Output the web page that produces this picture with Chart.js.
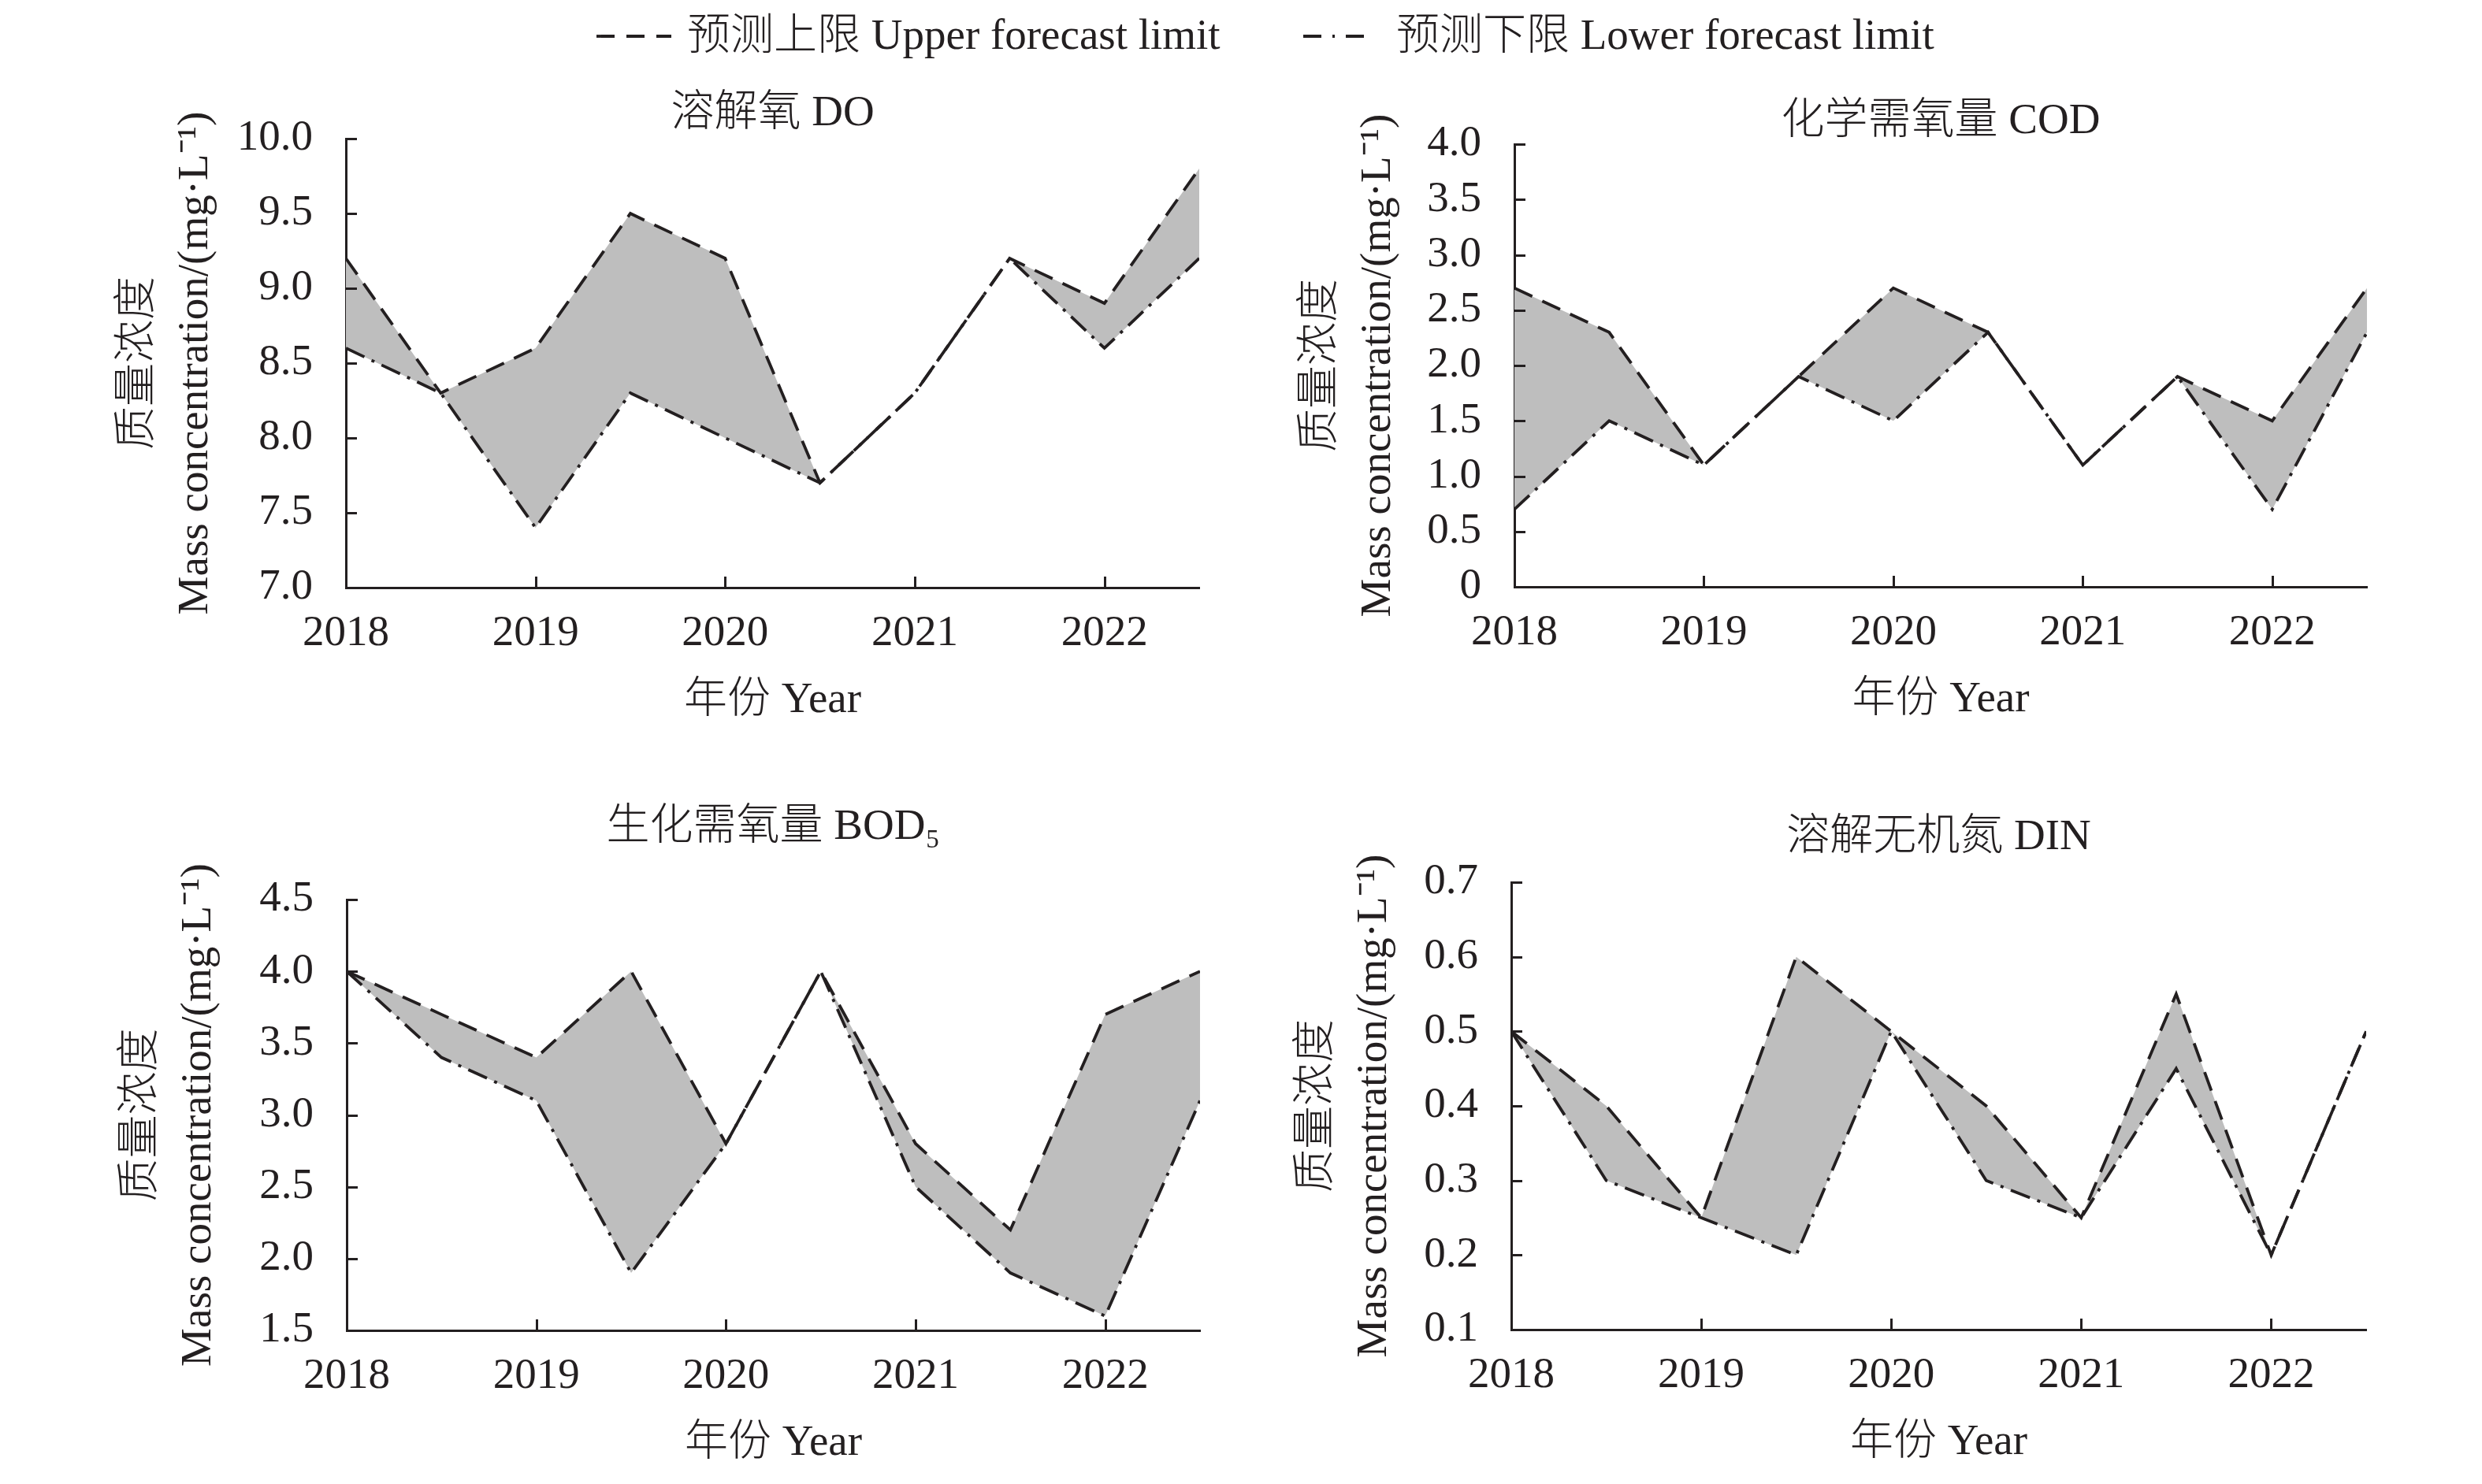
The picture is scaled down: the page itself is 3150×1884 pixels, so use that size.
<!DOCTYPE html>
<html>
<head>
<meta charset="utf-8">
<script src="https://cdn.jsdelivr.net/npm/chart.js@4.4.1/dist/chart.umd.min.js"></script>
<style>
  html, body { margin: 0; padding: 0; background: #ffffff; }
  body { width: 3150px; height: 1884px; position: relative; overflow: hidden; }
  canvas { position: absolute; }
  .leg { position: absolute; font-family: 'Liberation Serif', 'Noto Sans CJK SC', serif; font-weight: 300; font-size: 55px; line-height: 55px; color: #231f20; white-space: nowrap; }
  .legsvg { position: absolute; }
</style>
</head>
<body>
<svg class="legsvg" style="left:757px;top:40px" width="95" height="12"><line x1="0" y1="6" x2="95" y2="6" stroke="#231f20" stroke-width="3.8" stroke-dasharray="23 15"/></svg>
<div class="leg" style="left:872px;top:16px">预测上限 Upper forecast limit</div>
<svg class="legsvg" style="left:1654px;top:40px" width="86" height="12"><line x1="0" y1="6" x2="86" y2="6" stroke="#231f20" stroke-width="3.8" stroke-dasharray="23 14 3 14"/></svg>
<div class="leg" style="left:1772px;top:16px">预测下限 Lower forecast limit</div>

<canvas id="c1" width="1575" height="942" style="left:0px;top:0px"></canvas>
<canvas id="c2" width="1575" height="942" style="left:1575px;top:0px"></canvas>
<canvas id="c3" width="1575" height="942" style="left:0px;top:942px"></canvas>
<canvas id="c4" width="1575" height="942" style="left:1575px;top:942px"></canvas>

<script>
// ---------- data ----------
const years = [2018, 2018.5, 2019, 2019.5, 2020, 2020.5, 2021, 2021.5, 2022, 2022.5];
const xTickLabels = ['2018', '2019', '2020', '2021', '2022'];

const doUpper = [9.2, 8.3, 8.6, 9.5, 9.2, 7.7, 8.3, 9.2, 8.9, 9.8];
const doLower = [8.6, 8.3, 7.4, 8.3, 8.0, 7.7, 8.3, 9.2, 8.6, 9.2];
const doTicks = ['7.0', '7.5', '8.0', '8.5', '9.0', '9.5', '10.0'];

const codUpper = [2.7, 2.3, 1.1, 1.9, 2.7, 2.3, 1.1, 1.9, 1.5, 2.7];
const codLower = [0.7, 1.5, 1.1, 1.9, 1.5, 2.3, 1.1, 1.9, 0.7, 2.3];
const codTicks = ['0', '0.5', '1.0', '1.5', '2.0', '2.5', '3.0', '3.5', '4.0'];

const bodUpper = [4.0, 3.7, 3.4, 4.0, 2.8, 4.0, 2.8, 2.2, 3.7, 4.0];
const bodLower = [4.0, 3.4, 3.1, 1.9, 2.8, 4.0, 2.5, 1.9, 1.6, 3.1];
const bodTicks = ['1.5', '2.0', '2.5', '3.0', '3.5', '4.0', '4.5'];

const dinUpper = [0.5, 0.4, 0.25, 0.6, 0.5, 0.4, 0.25, 0.55, 0.2, 0.5];
const dinLower = [0.5, 0.3, 0.25, 0.2, 0.5, 0.3, 0.25, 0.45, 0.2, 0.5];
const dinTicks = ['0.1', '0.2', '0.3', '0.4', '0.5', '0.6', '0.7'];

const titles = ['溶解氧 DO', '化学需氧量 COD', '生化需氧量 BOD₅', '溶解无机氮 DIN'];
const yTitle = ['质量浓度', 'Mass concentration/(mg·L⁻¹)'];
const xTitle = '年份 Year';
const upperName = '预测上限 Upper forecast limit';
const lowerName = '预测下限 Lower forecast limit';

// ---------- style ----------
const INK = '#231f20';
const FILL = 'rgb(190,190,190)';
const FAMILY = "'Liberation Serif', 'Noto Sans CJK SC', serif";
const FS = 55;
const W = 300;

const innerTicks = {
  id: 'innerTicks',
  afterDraw(chart) {
    const { ctx, chartArea: a, scales: { x, y } } = chart;
    ctx.save();
    ctx.strokeStyle = INK;
    ctx.lineWidth = 3;
    ctx.beginPath();
    x.ticks.forEach(t => {
      const px = Math.round(x.getPixelForValue(t.value)) + 0.5;
      ctx.moveTo(px, a.bottom);
      ctx.lineTo(px, a.bottom - 14);
    });
    y.ticks.forEach(t => {
      const py = Math.round(y.getPixelForValue(t.value)) + 0.5;
      ctx.moveTo(a.left, py);
      ctx.lineTo(a.left + 14, py);
    });
    ctx.stroke();
    ctx.restore();
  }
};

function makeChart(id, upper, lower, yTicks, title, lay) {
  const yVals = yTicks.map(parseFloat);
  const xVals = xTickLabels.map(parseFloat);
  return new Chart(document.getElementById(id), {
    type: 'line',
    data: {
      datasets: [
        {
          label: upperName,
          data: years.map((x, i) => ({ x, y: upper[i] })),
          borderColor: INK, borderWidth: 3.8, borderDash: [25, 14],
          pointRadius: 0, tension: 0, fill: false
        },
        {
          label: lowerName,
          data: years.map((x, i) => ({ x, y: lower[i] })),
          borderColor: INK, borderWidth: 3.8, borderDash: [26, 10, 4, 10],
          pointRadius: 0, tension: 0, fill: '-1', backgroundColor: FILL
        }
      ]
    },
    options: {
      responsive: false,
      animation: false,
      devicePixelRatio: 1,
      layout: { padding: { left: lay.pl, right: lay.pr, top: 0, bottom: lay.pb } },
      plugins: {
        legend: { display: false },
        tooltip: { enabled: false },
        title: {
          display: true, text: title, color: INK, fullSize: false,
          font: { family: FAMILY, size: FS, weight: W, lineHeight: 1 },
          padding: { top: lay.ta, bottom: lay.tb }
        }
      },
      scales: {
        x: {
          type: 'linear',
          min: years[0], max: years[years.length - 1],
          afterBuildTicks: s => { s.ticks = xVals.map(v => ({ value: v })); },
          afterFit: s => { s.height = 190; },
          grid: { display: false, drawTicks: false },
          border: { display: true, color: INK, width: 3 },
          ticks: {
            color: INK, padding: 26, maxRotation: 0, autoSkip: false,
            font: { family: FAMILY, size: FS, weight: W, lineHeight: 1.2 },
            callback: (v, i) => xTickLabels[i]
          },
          title: {
            display: true, text: xTitle, color: INK,
            font: { family: FAMILY, size: FS, weight: W, lineHeight: 1.2 },
            padding: { top: 0, bottom: 13 }
          }
        },
        y: {
          type: 'linear',
          min: yVals[0], max: yVals[yVals.length - 1],
          afterBuildTicks: s => { s.ticks = yVals.map(v => ({ value: v })); },
          afterFit: s => { s.width = lay.yw; },
          grid: { display: false, drawTicks: false },
          border: { display: true, color: INK, width: 3 },
          ticks: {
            color: INK, padding: 42, autoSkip: false,
            font: { family: FAMILY, size: FS, weight: W, lineHeight: 1.2 },
            callback: (v, i) => yTicks[i]
          },
          title: {
            display: true, text: yTitle, color: INK,
            font: { family: FAMILY, size: FS, weight: W, lineHeight: 1.31 },
            padding: { top: 10, bottom: 0 }
          }
        }
      }
    },
    plugins: [innerTicks]
  });
}

makeChart('c1', doUpper, doLower, doTicks, titles[0], { pl: 130, yw: 309, pr: 53, pb: 6, ta: 117.5, tb: 3.5 });
makeChart('c2', codUpper, codLower, codTicks, titles[1], { pl: 56, yw: 291, pr: 146, pb: 7, ta: 127.5, tb: 0.5 });
makeChart('c3', bodUpper, bodLower, bodTicks, titles[2], { pl: 134, yw: 306, pr: 52, pb: 5, ta: 81.5, tb: 63.5 });
makeChart('c4', dinUpper, dinLower, dinTicks, titles[3], { pl: 51, yw: 292, pr: 147, pb: 6, ta: 94.5, tb: 28.5 });
</script>
</body>
</html>
